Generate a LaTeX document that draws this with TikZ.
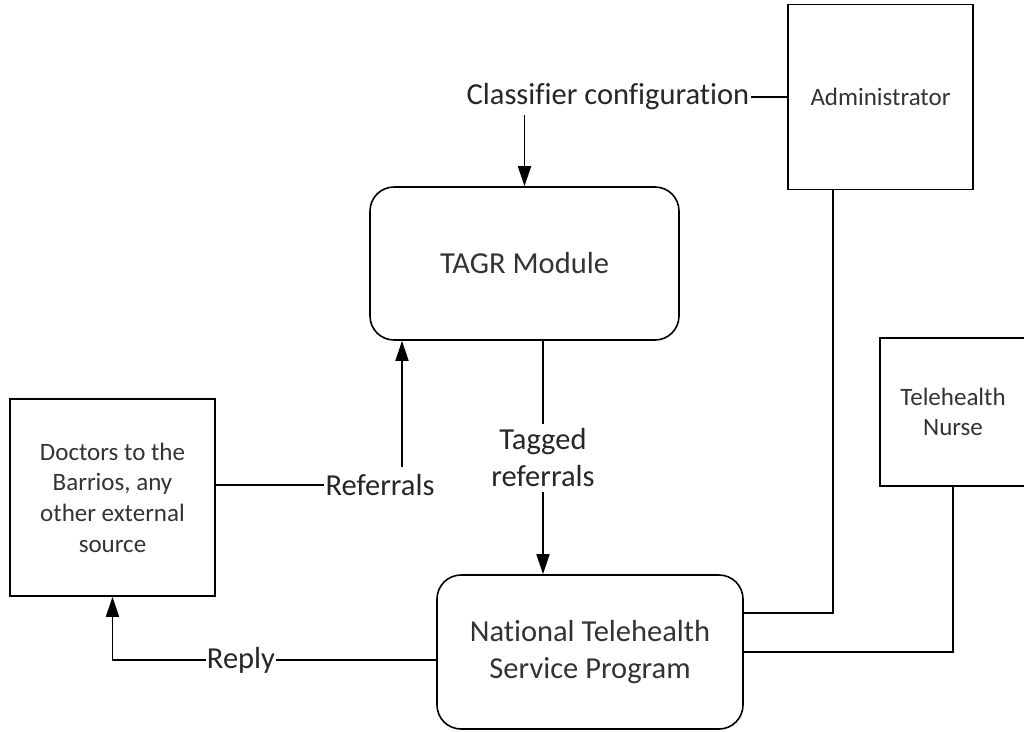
\documentclass[tikz,border=0pt]{standalone}
\usepackage{fontspec}
\setmainfont{Carlito}[Ligatures={NoCommon}]
\usetikzlibrary{arrows.meta,calc}
\begin{document}
\begin{tikzpicture}[x=1pt,y=-1pt,
  box/.style={draw, line width=1.6pt, inner sep=0pt, align=center,
    font=\fontsize{25}{30.7}\selectfont, text=black!80},
  proc/.style={box, rounded corners=24pt, font=\fontsize{30.5}{37}\selectfont},
  lbl/.style={inner sep=4pt, align=center, text=black!85,
    font=\fontsize{30.5}{37}\selectfont},
  link/.style={line width=1.6pt},
  arr/.style={link, -{Triangle[length=20pt,width=13pt]}}]
\useasboundingbox (0,0) rectangle (1024,731);

% external entities
\node[box, minimum width=185pt, minimum height=185pt] (admin) at (880.5,97) {Administrator};
\node[box, minimum width=146pt, minimum height=148pt] (nurse) at (953,412) {Telehealth\\Nurse};
\node[box, minimum width=205pt, minimum height=197pt] (doc) at (112.5,497.5)
  {Doctors to the\\Barrios, any\\other external\\source};

% processes
\node[proc, minimum width=309pt, minimum height=153pt] (tagr) at (524.5,263.5) {TAGR Module};
\node[proc, minimum width=306pt, minimum height=154pt] (ntsp) at (590,652)
  {National Telehealth\\Service Program};

% flow labels
\node[lbl, inner sep=1pt] (cls) at (608,97) {Classifier configuration};
\node[lbl, inner sep=1pt] (ref) at (380,485) {Referrals};
\node[lbl, inner sep=5pt] (tag) at (543,458) {Tagged\\referrals};
\node[lbl, inner sep=1pt] (reply) at (241,660) {Reply};

% flows
\draw[link] (cls.east) -- (cls.east -| admin.west);
\draw[arr] ([yshift=-4pt]cls.south -| tagr.north) -- (tagr.north);
\draw[link] (ref.west -| doc.east) -- (ref.west);
\draw[arr] ([xshift=22pt,yshift=6pt]ref.north) -- ([xshift=22pt]ref.north |- tagr.south);
\draw[link] (tag.north |- tagr.south) -- (tag.north);
\draw[arr] (tag.south) -- (tag.south |- ntsp.north);
\draw[link] (reply.east) -- (reply.east -| ntsp.west);
\draw[arr] (reply.west) -| (doc.south);
\draw[link] ([xshift=-47.5pt]admin.south) |- ([yshift=39pt]ntsp.east);
\draw[link] (nurse.south) |- (ntsp.east);
\end{tikzpicture}
\end{document}
